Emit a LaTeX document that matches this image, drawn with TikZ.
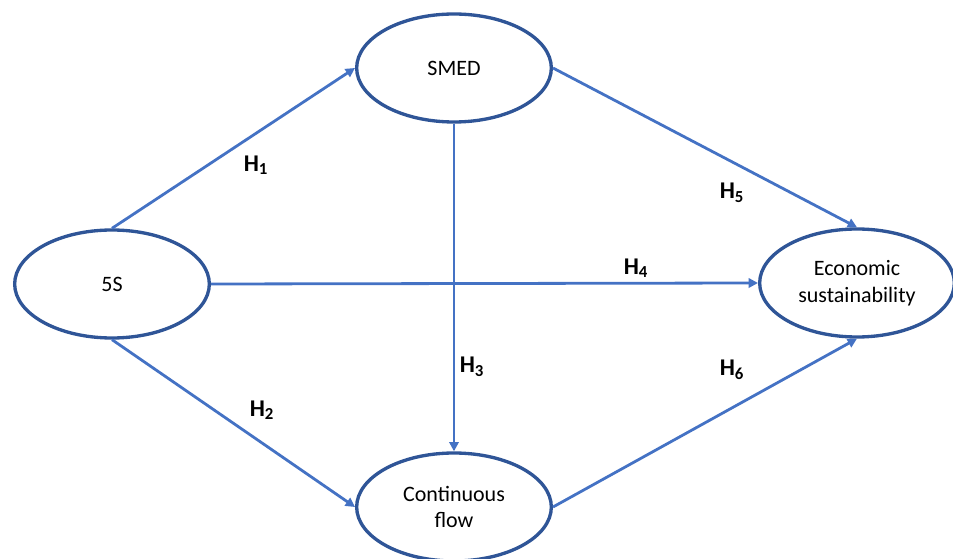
\documentclass[tikz,border=0pt]{standalone}
\usepackage{fontspec}
\setmainfont{Carlito}
\usetikzlibrary{shapes.geometric,arrows.meta,positioning}
\definecolor{ovalblue}{RGB}{47,85,151}
\definecolor{arrowblue}{RGB}{68,114,196}

\begin{document}
\begin{tikzpicture}[
    x=0.75pt, y=-0.75pt,
    construct/.style={ellipse, draw=ovalblue, line width=2.5pt, fill=white, minimum width=146pt, minimum height=81pt, inner sep=0pt, align=center, font=\fontsize{16.5}{20}\selectfont},
    link/.style={draw=arrowblue, line width=2.1pt, -{Triangle[length=7pt,width=7pt]}},
    hyp/.style={font=\fontsize{18}{20}\selectfont\bfseries}
]
\useasboundingbox (0,0) rectangle (953,559);

% Constructs
\node[construct] (fives) at (112,284) {5S};
\node[construct] (smed) at (454,68) {SMED};
\node[construct] (econ) at (857,283) {Economic\\sustainability};
\node[construct] (flow) at (454,507) {Continuous\\flow};

% Hypothesised paths
\draw[link] (fives.north) -- (smed.west);
\draw[link] (fives.south) -- (flow.west);
\draw[link] (fives.east) -- (econ.west);
\draw[link] (smed.south) -- (flow.north);
\draw[link] (smed.east) -- (econ.north);
\draw[link] (flow.east) -- (econ.south);

% Labels
\node[hyp] (h1) at (256,165) {H\textsubscript{1}};
\node[hyp] (h2) at (262,410) {H\textsubscript{2}};
\node[hyp] (h3) at (472,367) {H\textsubscript{3}};
\node[hyp] (h4) at (636,268) {H\textsubscript{4}};
\node[hyp] (h5) at (732,193) {H\textsubscript{5}};
\node[hyp] (h6) at (732,370) {H\textsubscript{6}};

\end{tikzpicture}
\end{document}
